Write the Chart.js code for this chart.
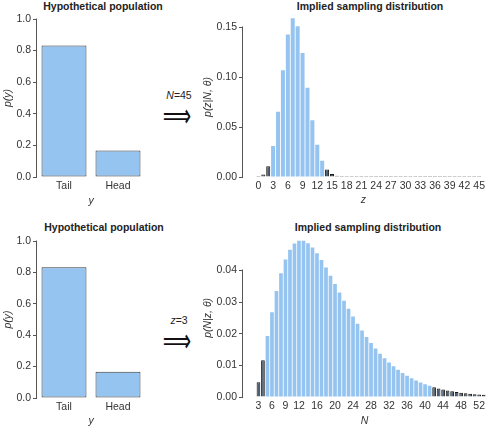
<!DOCTYPE html>
<html><head><meta charset="utf-8">
<script src="https://cdn.jsdelivr.net/npm/chart.js@4/dist/chart.umd.min.js"></script>
<style>
body{margin:0;width:488px;height:426px;overflow:hidden;background:#fff;position:relative;font-family:"Liberation Sans",Arial,sans-serif;color:#222}
canvas{position:absolute}
.t{position:absolute;font-weight:bold;font-size:10.5px;line-height:12px;white-space:nowrap;transform:translateX(-50%)}
.lab{position:absolute;font-size:10.5px;line-height:12px;white-space:nowrap;transform:translateX(-50%)}
.arr{position:absolute;font-family:"DejaVu Sans",sans-serif;font-size:22px;line-height:22px;transform:translateX(-50%) scale(0.9,1.5);color:#111}
</style></head><body>
<div class="t" style="left:103px;top:0px">Hypothetical population</div>
<div class="t" style="left:370px;top:0px">Implied sampling distribution</div>
<div class="t" style="left:104px;top:221px">Hypothetical population</div>
<div class="t" style="left:368px;top:221px">Implied sampling distribution</div>
<div class="lab" style="left:179px;top:89px"><i>N</i>=45</div>
<div class="arr" style="left:177px;top:105px">⟹</div>
<div class="lab" style="left:179px;top:314px"><i>z</i>=3</div>
<div class="arr" style="left:177px;top:330px">⟹</div>
<canvas id="c1" width="160" height="212" style="left:0;top:0"></canvas>
<canvas id="c2" width="288" height="212" style="left:200px;top:0"></canvas>
<canvas id="c3" width="160" height="214" style="left:0;top:212px"></canvas>
<canvas id="c4" width="288" height="214" style="left:200px;top:212px"></canvas>
<script>
// ---- data ----
const popCategories = ['Tail', 'Head'];
const popProb = [0.833, 0.167];
const popYTicks = [0, 0.2, 0.4, 0.6, 0.8, 1.0];
const popYTickLabels = ['0.0', '0.2', '0.4', '0.6', '0.8', '1.0'];

const binomZ = [0,1,2,3,4,5,6,7,8,9,10,11,12,13,14,15,16,17,18,19,20,21,22,23,24,25,26,27,28,29,30,31,32,33,34,35,36,37,38,39,40,41,42,43,44,45];
const binomP = [0.00027,0.00246,0.01082,0.03101,0.06513,0.10681,0.14241,0.15869,0.15075,0.12395,
  0.08925,0.05679,0.03218,0.01634,0.00747,0.00309,0.00116,0.00040,0.00012,0.000035,
  0.0000091,0.0000022,4.7e-7,9.4e-8,1.7e-8,2.9e-9,4.5e-10,6.3e-11,8.1e-12,9.5e-13,
  1.0e-13,9.8e-15,8.6e-16,6.8e-17,4.8e-18,3.0e-19,1.7e-20,8.2e-22,3.4e-23,1.2e-24,
  3.7e-26,9.1e-28,1.7e-29,2.4e-31,2.2e-33,9.6e-36];
const binomXTicks = [0,3,6,9,12,15,18,21,24,27,30,33,36,39,42,45];
const binomYTicks = [0, 0.05, 0.10, 0.15];
const binomYTickLabels = ['0.00', '0.05', '0.10', '0.15'];
const binomTailLow = 2, binomTailHigh = 14;

const nbN = [3,4,5,6,7,8,9,10,11,12,13,14,15,16,17,18,19,20,21,22,23,24,25,26,27,28,29,30,31,32,33,34,35,36,37,38,39,40,41,42,43,44,45,46,47,48,49,50,51,52,53];
const nbP = [0.00463,0.01157,0.01929,0.02679,0.03349,0.03907,0.04341,0.04651,0.04845,0.04935,
  0.04935,0.04860,0.04725,0.04543,0.04327,0.04087,0.03831,0.03568,0.03304,0.03043,
  0.02790,0.02546,0.02315,0.02097,0.01893,0.01704,0.01529,0.01368,0.01222,0.01088,
  0.00968,0.00858,0.00760,0.00672,0.00593,0.00522,0.00459,0.00403,0.00354,0.00310,
  0.00271,0.00237,0.00207,0.00181,0.00157,0.00137,0.00119,0.00103,0.00090,0.00078,0.00068];
const nbXTicks = [3,6,9,12,16,20,24,28,32,36,40,44,48,52];
const nbYTicks = [0, 0.01, 0.02, 0.03, 0.04];
const nbYTickLabels = ['0.00', '0.01', '0.02', '0.03', '0.04'];
const nbTailLow = 4, nbTailHigh = 42;

// ---- style ----
const LIGHT = '#95c4f1';
const DARK = '#4d5f70';
const AXIS = '#555';
Chart.defaults.font.family = '"Liberation Sans", Arial, sans-serif';
Chart.defaults.font.size = 10.5;
Chart.defaults.color = '#333';

const axisLine = {
  id: 'axisLine',
  afterDraw(chart) {
    const s = chart.scales.y, ctx = chart.ctx;
    const t = s.ticks;
    const y0 = s.getPixelForValue(t[0].value), y1 = s.getPixelForValue(t[t.length - 1].value);
    const x = Math.round(chart.chartArea.left) - 0.5;
    ctx.save();
    ctx.strokeStyle = AXIS; ctx.lineWidth = 1;
    ctx.beginPath(); ctx.moveTo(x, Math.round(y0)); ctx.lineTo(x, Math.round(y1) - 0.5); ctx.stroke();
    ctx.restore();
  }
};

function yScale(yTicks, yLabels, yMax, title, width) {
  return {
    min: 0, max: yMax,
    afterBuildTicks: s => { s.ticks = yTicks.map(v => ({ value: v })); },
    afterFit: s => { s.width = width; },
    ticks: { autoSkip: false, padding: 2, callback: (v, i) => yLabels[i] },
    grid: { drawOnChartArea: false, drawTicks: true, tickLength: 4, color: AXIS },
    border: { display: false },
    title: { display: true, text: title, font: { style: 'italic', size: 10.5, lineHeight: 1 }, padding: { top: 3, bottom: 0 } }
  };
}

function popChart(id, padTop, xHeight, titlePadBottom) {
  new Chart(document.getElementById(id), {
    type: 'bar',
    data: { labels: popCategories, datasets: [{ data: popProb, backgroundColor: LIGHT, borderColor: '#3a3a3a', borderWidth: 1, borderSkipped: false, barPercentage: 0.833, categoryPercentage: 1 }] },
    options: {
      responsive: false, animation: false, events: [],
      layout: { padding: { top: padTop, right: 15, left: 0, bottom: 0 } },
      plugins: { legend: { display: false }, tooltip: { enabled: false } },
      scales: {
        x: {
          grid: { display: false, drawTicks: false }, border: { display: false },
          ticks: { padding: 3 },
          afterFit: s => { s.height = xHeight; },
          title: { display: true, text: 'y', font: { style: 'italic', size: 10.5, lineHeight: 1 }, padding: { top: 0, bottom: titlePadBottom } }
        },
        y: yScale(popYTicks, popYTickLabels, 1.0, 'p(y)', 37)
      }
    },
    plugins: [axisLine]
  });
}

function distChart(id, xs, ys, tailLow, tailHigh, xTicks, yTicks, yLabels, xMin, xMax, yMax, xTitle, yTitle, padTop, xHeight, titlePadBottom) {
  const isTail = c => c.raw && (c.raw.x <= tailLow || c.raw.x >= tailHigh);
  new Chart(document.getElementById(id), {
    type: 'bar',
    data: { datasets: [{
      data: xs.map((x, i) => ({ x: x, y: ys[i] })),
      backgroundColor: c => isTail(c) ? DARK : LIGHT,
      borderColor: '#1a1a1a',
      borderWidth: c => isTail(c) ? 1 : 0,
      barPercentage: 0.82, categoryPercentage: 1, minBarLength: 1
    }] },
    options: {
      responsive: false, animation: false, events: [],
      layout: { padding: { top: padTop, right: 1, left: 0, bottom: 0 } },
      plugins: { legend: { display: false }, tooltip: { enabled: false } },
      scales: {
        x: {
          type: 'linear', min: xMin, max: xMax, offset: false,
          afterBuildTicks: s => { s.ticks = xTicks.map(v => ({ value: v })); },
          afterFit: s => { s.height = xHeight; },
          ticks: { autoSkip: false, maxRotation: 0, padding: 3, callback: v => String(v) },
          grid: { display: false, drawTicks: false }, border: { display: false },
          title: { display: true, text: xTitle, font: { style: 'italic', size: 10.5, lineHeight: 1 }, padding: { top: 0, bottom: titlePadBottom } }
        },
        y: yScale(yTicks, yLabels, yMax, yTitle, 43)
      }
    },
    plugins: [axisLine]
  });
}

popChart('c1', 19, 35, 6);
distChart('c2', binomZ, binomP, binomTailLow, binomTailHigh, binomXTicks, binomYTicks, binomYTickLabels,
  -3.14, 45.95, 0.16, 'z', 'p(z|N, θ)', 17, 35, 7);
popChart('c3', 29, 28, 0);
distChart('c4', nbN, nbP, nbTailLow, nbTailHigh, nbXTicks, nbYTicks, nbYTickLabels,
  -0.43, 53.55, 0.05, 'N', 'p(N|z, θ)', 26.7, 29, 0);
</script>
</body></html>
